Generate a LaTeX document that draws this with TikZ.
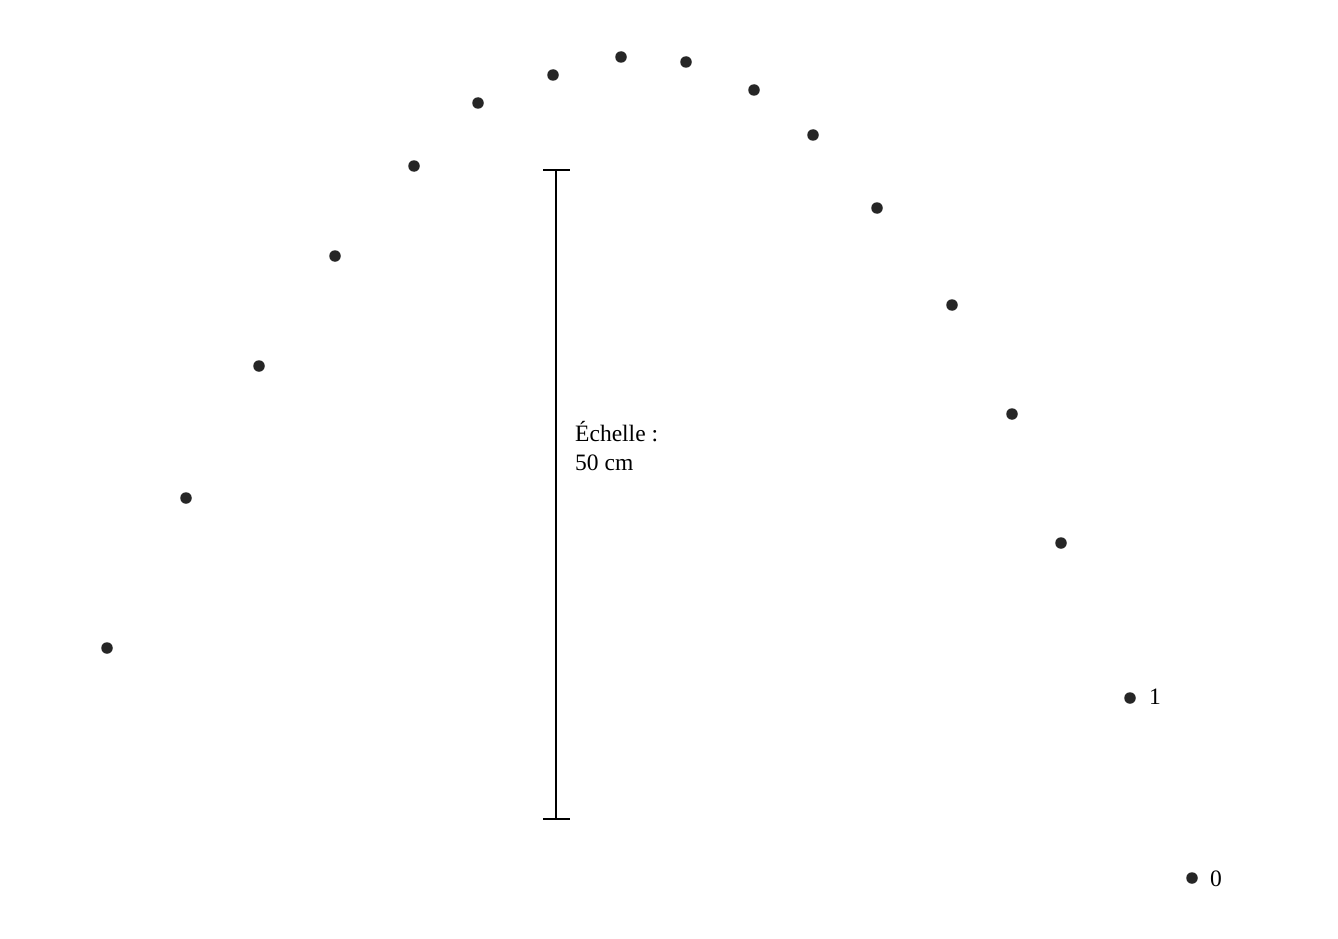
\documentclass[tikz,border=0pt]{standalone}
\usepackage{fontspec}
\setmainfont{Liberation Serif}
\begin{document}
\begin{tikzpicture}[x=1pt,y=-1pt,
  pt/.style={circle,fill=black!85,inner sep=0pt,minimum size=11.5pt},
  lbl/.style={anchor=base west,inner sep=0pt,font=\fontsize{23.5}{29}\selectfont},
  bar/.style={line width=1.4pt}]
\useasboundingbox (0,0) rectangle (1338,939);
\foreach \x/\y [count=\i] in {107/648,186/498,259/366,335/256,414/166,478/103,553/75,621/57,686/62,754/90,813/135,877/208,952/305,1012/414,1061/543,1130/698,1192/878}
  \node[pt] (p\i) at (\x,\y) {};
\coordinate (top) at (556,170);
\coordinate (bot) at (556,819);
\coordinate (tl) at (543,170);
\coordinate (tr) at (570,170);
\coordinate (bl) at (543,819);
\coordinate (br) at (570,819);
\draw[bar] (top) -- (bot);
\draw[bar] (tl) -- (tr);
\draw[bar] (bl) -- (br);
\node[lbl] (e1) at (575,441) {Échelle :};
\node[lbl] (e2) at (575,470) {50 cm};
\node[lbl] (l1) at (1149,704) {1};
\node[lbl] (l0) at (1210,886) {0};
\end{tikzpicture}
\end{document}
